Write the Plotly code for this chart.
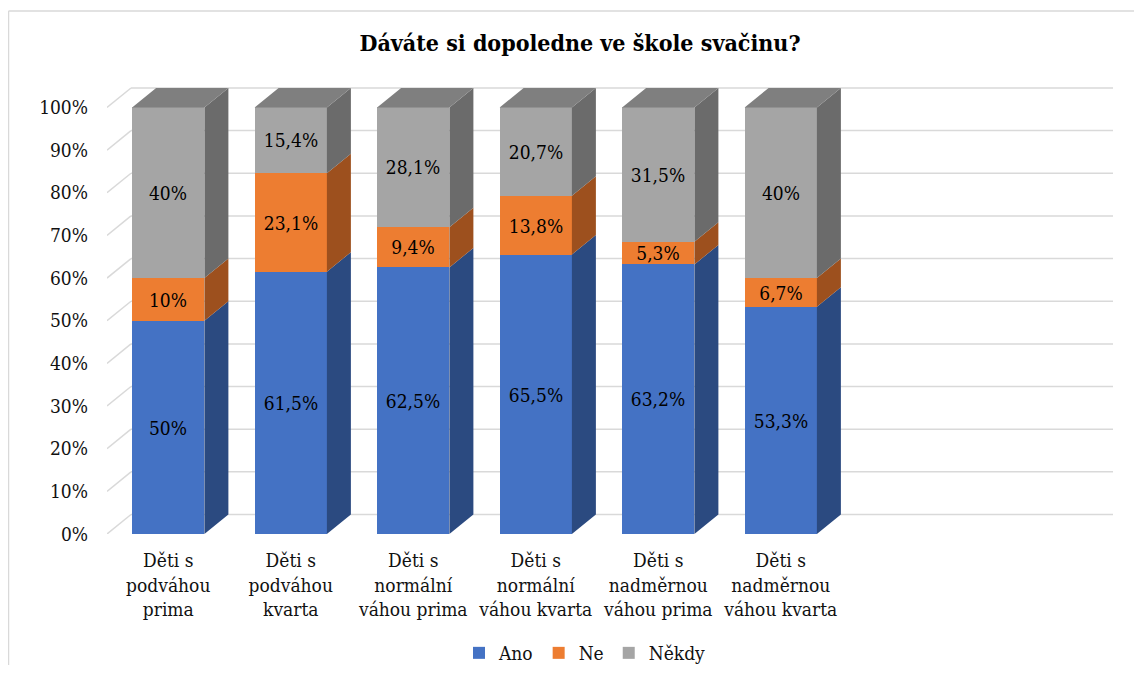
import plotly.graph_objects as go

categories = [
    "Děti s<br>podváhou<br>prima",
    "Děti s<br>podváhou<br>kvarta",
    "Děti s<br>normální<br>váhou prima",
    "Děti s<br>normální<br>váhou kvarta",
    "Děti s<br>nadměrnou<br>váhou prima",
    "Děti s<br>nadměrnou<br>váhou kvarta",
]
ano = [50, 61.5, 62.5, 65.5, 63.2, 53.3]
ne = [10, 23.1, 9.4, 13.8, 5.3, 6.7]
nekdy = [40, 15.4, 28.1, 20.7, 31.5, 40]
series_names = ["Ano", "Ne", "Někdy"]
y_ticks = [0, 10, 20, 30, 40, 50, 60, 70, 80, 90, 100]

front_colors = ["#4472C4", "#ED7D31", "#A5A5A5"]
side_colors = ["#2B4A80", "#9D501E", "#6B6B6B"]
top_color = "#7F7F7F"
FONT = "DejaVu Serif Condensed, DejaVu Serif"

OFF = 8
W, H = 1142 - 2 * OFF, 673 - 2 * OFF
L = 107 - OFF
T = 84 - OFF
R = W - (1113 - OFF)
B = H - (534 - OFF)
plot_w = W - L - R
plot_h = H - T - B
x_lo = -0.5
px_per_x = 122.5
dx = 24 / px_per_x
x_hi = x_lo + plot_w / px_per_x
y_top = 105.5
px_per_y = plot_h / y_top
dy = 19.5 / px_per_y
bw = 0.59

def fmt(v):
    s = f"{v:g}".replace(".", ",")
    return s + "%"

xs = list(range(len(categories)))
data = [ano, ne, nekdy]

fig = go.Figure()

bases = [0] * len(xs)
for k, (name, vals) in enumerate(zip(series_names, data)):
    fig.add_trace(go.Bar(
        x=xs, y=vals, base=bases[:], name=name, width=bw,
        marker=dict(color=front_colors[k], line=dict(width=0)),
        text=[fmt(v) for v in vals], textposition="inside",
        insidetextanchor="middle", textangle=0,
        textfont=dict(family=FONT, size=19, color="#000000"),
        hoverinfo="skip", showlegend=True,
    ))
    bases = [b + v for b, v in zip(bases, vals)]

bases = [0] * len(xs)
for k, vals in enumerate(data):
    px, py = [], []
    for i, (b, v) in enumerate(zip(bases, vals)):
        xr = xs[i] + bw / 2
        t = b + v
        px += [xr, xr + dx, xr + dx, xr, xr, None]
        py += [b, b + dy, t + dy, t, b, None]
    fig.add_trace(go.Scatter(
        x=px, y=py, mode="lines", fill="toself", fillcolor=side_colors[k],
        line=dict(width=0, color=side_colors[k]), hoverinfo="skip", showlegend=False,
    ))
    bases = [b + v for b, v in zip(bases, vals)]

px, py = [], []
for i, t in enumerate(bases):
    xl, xr = xs[i] - bw / 2, xs[i] + bw / 2
    px += [xl, xr, xr + dx, xl + dx, xl, None]
    py += [t, t, t + dy, t + dy, t, None]
fig.add_trace(go.Scatter(
    x=px, y=py, mode="lines", fill="toself", fillcolor=top_color,
    line=dict(width=0, color=top_color), hoverinfo="skip", showlegend=False,
))

shapes = []
for v in y_ticks:
    shapes.append(dict(type="line", xref="x", yref="y", layer="below",
                       x0=x_lo + dx, x1=x_hi, y0=v + dy, y1=v + dy,
                       line=dict(color="#D9D9D9", width=1.5)))
    shapes.append(dict(type="line", xref="x", yref="y", layer="below",
                       x0=x_lo, x1=x_lo + dx, y0=v, y1=v + dy,
                       line=dict(color="#D9D9D9", width=1.5)))

bx = (8.5 - OFF - L) / plot_w
by = (H - B - (11 - OFF)) / plot_h
shapes.append(dict(type="line", xref="paper", yref="paper", x0=bx, x1=bx, y0=by, y1=-2,
                   line=dict(color="#D9D9D9", width=1.5)))
shapes.append(dict(type="line", xref="paper", yref="paper", x0=bx, x1=2, y0=by, y1=by,
                   line=dict(color="#D9D9D9", width=1.5)))

fig.update_layout(
    width=W, height=H,
    margin=dict(l=L, r=R, t=T, b=B, autoexpand=False),
    paper_bgcolor="white", plot_bgcolor="white",
    barmode="stack", bargap=0,
    shapes=shapes,
    title=dict(text="<b>Dáváte si dopoledne ve škole svačinu?</b>",
               font=dict(family=FONT, size=23, color="#000000"),
               x=(580 - OFF) / W, xanchor="center", y=1 - (43 - OFF) / H, yanchor="middle",
               xref="container", yref="container"),
    xaxis=dict(range=[x_lo, x_hi], tickvals=xs, ticktext=categories,
               showgrid=False, zeroline=False, showline=False, ticks="",
               ticklabelstandoff=13, automargin=False,
               tickfont=dict(family=FONT, size=19, color="#111111")),
    yaxis=dict(range=[0, y_top], tickvals=y_ticks, ticktext=[f"{v}%" for v in y_ticks],
               showgrid=False, zeroline=False, showline=False, ticks="",
               ticklabelstandoff=18, automargin=False,
               tickfont=dict(family=FONT, size=19, color="#111111")),
    legend=dict(orientation="h", x=(585 - OFF - L) / plot_w, xanchor="center",
                y=(H - B - (653 - OFF)) / plot_h, yanchor="middle",
                font=dict(family=FONT, size=19, color="#111111"),
                itemwidth=30, traceorder="normal"),
    uniformtext=dict(minsize=19, mode="show"),
)

fig.write_html("out.html")
